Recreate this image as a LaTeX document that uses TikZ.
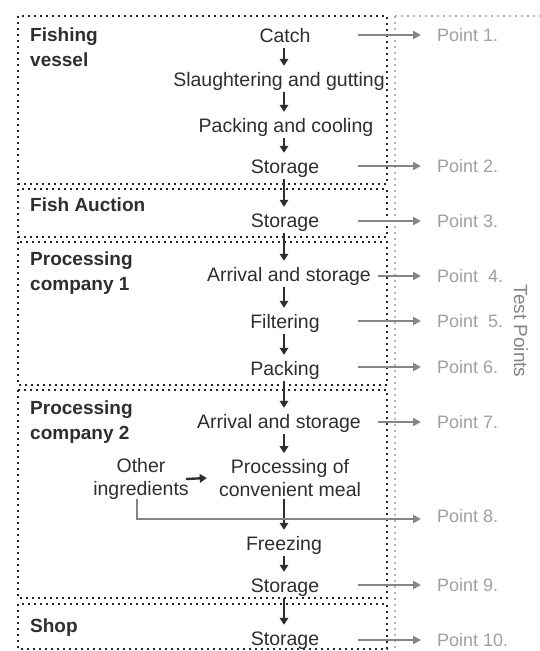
\documentclass[tikz,border=0pt]{standalone}
\usepackage{fontspec}
\setmainfont{Liberation Sans}
\usetikzlibrary{arrows.meta}
\definecolor{ink}{HTML}{2E2E2E}
\definecolor{tpgray}{HTML}{858585}
\definecolor{tplabel}{HTML}{A0A0A0}
\begin{document}
\begin{tikzpicture}[x=1pt,y=-1pt,
  stepbox/.style={font=\fontsize{19.5}{23}\selectfont, text=ink, inner sep=0pt, align=center},
  oneline/.style={stepbox, text height=14pt, text depth=4pt},
  stagelbl/.style={font=\fontsize{19}{24.5}\selectfont\bfseries, text=ink, inner sep=0pt, anchor=north west, align=left},
  ptlbl/.style={font=\fontsize{18}{22}\selectfont, text=tplabel, inner sep=0pt, anchor=west, text height=13pt, text depth=0pt},
  flow/.style={draw=ink, line width=2.4pt, -{Triangle[length=7pt,width=8.5pt]}, shorten <=2pt, shorten >=6pt},
  sideflow/.style={draw=ink, line width=2.4pt, -{Triangle[length=7pt,width=8.5pt]}},
  tarrow/.style={draw=tpgray, line width=2.5pt, -{Triangle[length=8pt,width=8pt]}},
  stagebox/.style={draw=black!85, line width=2pt, dash pattern=on 1.8pt off 4.2pt},
  tbox/.style={draw=gray!60, line width=1.6pt, dash pattern=on 1.6pt off 4.4pt},
  testlbl/.style={font=\fontsize{19}{22}\selectfont, text=tpgray, inner sep=0pt, rotate=-90},
]
\useasboundingbox (0,0) rectangle (539,651);
\fill[white] (0,0) rectangle (539,651);

% test points box
\draw[tbox] (395,16) -- (560,16);
\draw[tbox] (395,16) -- (395,660);
\node[testlbl] (tp) at (521,331) {Test Points};

% stage boxes
\draw[stagebox] (18,16) rectangle (387,184);
\draw[stagebox] (18,189) rectangle (387,237);
\draw[stagebox] (18,242) rectangle (387,385);
\draw[stagebox] (18,390) rectangle (387,598);
\draw[stagebox] (18,604) rectangle (387,649);

% stage labels
\node[stagelbl] (s1) at (30,28) {Fishing\\vessel};
\node[stagelbl] (s2) at (30,198) {Fish Auction};
\node[stagelbl] (s3) at (30,252) {Processing\\company 1};
\node[stagelbl] (s4) at (30,401) {Processing\\company 2};
\node[stagelbl] (s5) at (30,619) {Shop};

% process steps
\coordinate (col) at (284,0);
\node[oneline] (catch) at (285,37) {Catch};
\node[oneline] (slaugh) at (279,81) {Slaughtering and gutting};
\node[oneline] (packcool) at (286,127) {Packing and cooling};
\node[oneline] (stor1) at (285,168) {Storage};
\node[oneline] (stor2) at (285,222) {Storage};
\node[oneline] (arr1) at (289,276) {Arrival and storage};
\node[oneline] (filt) at (285,323) {Filtering};
\node[oneline] (pack) at (285,370) {Packing};
\node[oneline] (arr2) at (279,423) {Arrival and storage};
\node[stepbox] (meal) at (290,478) {Processing of\\convenient meal};
\node[stepbox] (other) at (141,479) {Other\\ingredients};
\node[oneline] (freeze) at (284,545) {Freezing};
\node[oneline] (stor3) at (285,587) {Storage};
\node[oneline] (stor4) at (285,640) {Storage};

% main flow
\foreach \a/\b in {catch/slaugh, slaugh/packcool, packcool/stor1, stor1/stor2, stor2/arr1, arr1/filt, filt/pack, pack/arr2, arr2/meal, meal/freeze, freeze/stor3, stor3/stor4}
  \draw[flow] (\a.south -| col) -- (\b.north -| col);
\draw[sideflow] ([xshift=-3pt]other.east) -- ([xshift=-12pt]meal.west);

% point labels
\node[ptlbl] (p1) at (437,35) {Point 1.};
\node[ptlbl] (p2) at (437,166) {Point 2.};
\node[ptlbl] (p3) at (437,221) {Point 3.};
\node[ptlbl] (p4) at (437,276) {Point\ \ 4.};
\node[ptlbl] (p5) at (437,321) {Point\ \ 5.};
\node[ptlbl] (p6) at (437,367) {Point 6.};
\node[ptlbl] (p7) at (437,422) {Point 7.};
\node[ptlbl] (p8) at (437,516) {Point 8.};
\node[ptlbl] (p9) at (437,585) {Point 9.};
\node[ptlbl] (p10) at (437,640) {Point 10.};

% test arrows
\coordinate (ta) at (358,0);
\coordinate (tb) at (378,0);
\foreach \p in {p1,p2,p3,p5,p6,p9,p10}
  \draw[tarrow] (\p.west -| ta) -- ([xshift=-16pt]\p.west);
\foreach \p in {p4,p7}
  \draw[tarrow] (\p.west -| tb) -- ([xshift=-16pt]\p.west);
\draw[tarrow] ([xshift=-4pt,yshift=1pt]other.south) |- ([xshift=-16pt,yshift=-3pt]p8.west);
\end{tikzpicture}
\end{document}
